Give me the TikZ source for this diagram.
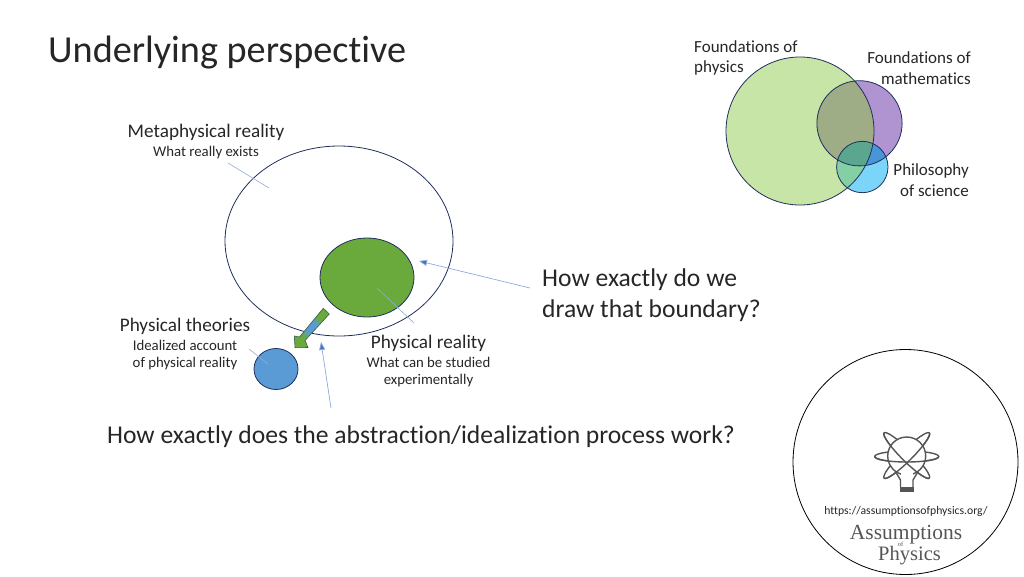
\documentclass[tikz,border=0pt]{standalone}
\usepackage{fontspec}
\setmainfont[RawFeature={-liga,-clig,-dlig}]{Carlito}
\newfontfamily\logofont{Liberation Serif}
\usetikzlibrary{arrows.meta,shapes.geometric}
\definecolor{edge}{HTML}{1F2F5C}
\definecolor{thin}{HTML}{8FAADC}
\definecolor{arrowblue}{HTML}{4472C4}
\definecolor{gA}{HTML}{C7E5A6}
\definecolor{pA}{HTML}{B094D2}
\definecolor{bA}{HTML}{7BD5F9}
\definecolor{gp}{HTML}{9EAD85}
\definecolor{gb}{HTML}{85CFA5}
\definecolor{pb}{HTML}{4A94D8}
\definecolor{gpb}{HTML}{5AA68F}
\definecolor{physgreen}{HTML}{6AAA3C}
\definecolor{theoryblue}{HTML}{5B9BD5}
\definecolor{arrowedge}{HTML}{2F5E4A}
\definecolor{txt}{HTML}{262626}
\definecolor{logogray}{HTML}{555555}
\pgfdeclarehorizontalshading{arrowshade}{100bp}{color(0bp)=(physgreen); color(34bp)=(physgreen); color(43bp)=(theoryblue); color(57bp)=(theoryblue); color(66bp)=(physgreen); color(100bp)=(physgreen)}
\tikzset{
  lab/.style={inner sep=0pt,text=txt,font=\fontsize{#1}{#1}\selectfont},
  blob/.style={draw=edge,line width=0.8pt,inner sep=0pt},
  leader/.style={draw=thin,line width=0.6pt},
  pointer/.style={draw=thin,line width=0.7pt,-{Triangle[length=8pt,width=6pt,fill=arrowblue]}},
  logoline/.style={draw=logogray,line width=1.4pt}
}
\begin{document}
\begin{tikzpicture}[x=1pt,y=-1pt]
\useasboundingbox (0,0) rectangle (1024,576);
% title
\node[lab=38.2,anchor=west] (title) at (48,52.5) {Underlying perspective};
% Venn
\fill[gA] (800,131) circle (74);
\fill[pA] (859.5,123.3) circle (42.6);
\fill[bA] (862.3,167) circle (25.7);
\begin{scope}\clip (800,131) circle (74);
  \fill[gp] (859.5,123.3) circle (42.6);
  \fill[gb] (862.3,167) circle (25.7);
  \clip (859.5,123.3) circle (42.6);
  \fill[gpb] (862.3,167) circle (25.7);
\end{scope}
\begin{scope}\clip (859.5,123.3) circle (42.6);
  \begin{scope}[even odd rule]
    \clip (700,30) rectangle (950,230) (800,131) circle (74);
    \fill[pb] (862.3,167) circle (25.7);
  \end{scope}
\end{scope}
\node[blob,circle,minimum size=148pt] (fphys) at (800,131) {};
\node[blob,circle,minimum size=85.2pt] (fmath) at (859.5,123.3) {};
\node[blob,circle,minimum size=51.4pt] (phil) at (862.3,167) {};
\node[lab=17,anchor=west] (fphysA) at (694,47) {Foundations of};
\node[lab=17,anchor=west] (fphysB) at (694,68) {physics};
\node[lab=17,anchor=east] (fmathA) at (971,58) {Foundations of};
\node[lab=17,anchor=east] (fmathB) at (971,79) {mathematics};
\node[lab=17,anchor=east] (philA) at (969,171) {Philosophy};
\node[lab=17,anchor=east] (philB) at (969,190.5) {of science};
% main ellipses
\node[draw=edge,line width=0.8pt,ellipse,inner sep=0pt,minimum width=228pt,minimum height=190pt] (meta) at (339,241) {};
\node[blob,fill=physgreen,ellipse,minimum width=94pt,minimum height=79pt] (phys) at (367,277.5) {};
\node[blob,fill=theoryblue,ellipse,minimum width=44pt,minimum height=41pt] (theory) at (276,369) {};
% abstraction arrow
\path[draw=arrowedge,line width=0.6pt,shading=arrowshade,shading angle=49]
  (323.3,308.3) -- (329.3,314) -- (305,340.5) -- (308,347.5) -- (295,347.7) -- (294.3,336) -- (299.5,337) -- cycle;
% labels
\node[lab=19.2] (metaA) at (206,132) {Metaphysical reality};
\node[lab=14.8] (metaB) at (206,153) {What really exists};
\node[lab=19.2] (thA) at (185,326) {Physical theories};
\node[lab=14.8] (thB) at (185,345.5) {Idealized account};
\node[lab=14.8] (thC) at (185,364) {of physical reality};
\node[lab=19.2] (phA) at (428.5,343) {Physical reality};
\node[lab=14.8] (phB) at (428.5,362) {What can be studied};
\node[lab=14.8] (phC) at (428.5,381) {experimentally};
\node[lab=25.6,anchor=west] (qA) at (542,280) {How exactly do we};
\node[lab=25.6,anchor=west] (qB) at (542,310.5) {draw that boundary?};
\node[lab=25.6] (qC) at (421,437) {How exactly does the abstraction/idealization process work?};
% leaders
\coordinate (l1a) at (228,163); \coordinate (l1b) at (269,188);
\coordinate (l2a) at (377,288); \coordinate (l2b) at (414,323);
\coordinate (l3a) at (249,349); \coordinate (l3b) at (268,364);
\coordinate (p1a) at (530,288); \coordinate (p1b) at (419,261);
\coordinate (p2a) at (331,408); \coordinate (p2b) at (321,342);
\draw[leader] (l1a) -- (l1b);
\draw[leader] (l2a) -- (l2b);
\draw[leader] (l3a) -- (l3b);
\draw[pointer] (p1a) -- (p1b);
\draw[pointer] (p2a) -- (p2b);
% logo
\node[draw=black,line width=0.8pt,circle,inner sep=0pt,minimum size=225pt] (logo) at (905.5,462) {};
\draw[logoline] (906.7,456.5) ellipse (32 and 5.5);
\draw[logoline,rotate around={45:(906.7,455.5)}] (906.7,455.5) ellipse (32 and 5.5);
\draw[logoline,rotate around={-45:(906.7,455.5)}] (906.7,455.5) ellipse (32 and 5.5);
\draw[logoline,fill=white] (906.7,456) circle (19);
\draw[logoline] (874.7,456.5) arc[start angle=180,end angle=0,x radius=32,y radius=5.5];
\begin{scope}[shift={(906.7,455.5)},rotate=45]
  \draw[logoline] (32,0) arc[start angle=0,end angle=180,x radius=32,y radius=5.5];
\end{scope}
\begin{scope}[shift={(906.7,455.5)},rotate=-45]
  \draw[logoline] (32,0) arc[start angle=0,end angle=180,x radius=32,y radius=5.5];
\end{scope}
\fill[white] (900.5,472) rectangle (913,482);
\fill[logogray] (900,487) rectangle (913.5,491.5);
\draw[logoline] (900.5,487) -- (900.5,480) -- (896,472.5) (913,487) -- (913,480) -- (917.5,472.5);
\node[lab=11.7] (url) at (906,511.5) {https://assumptionsofphysics.org/};
\node[inner sep=0pt,text=logogray,font=\logofont\fontsize{21.5}{21.5}\selectfont] (apA) at (906,534.5) {Assumptions};
\node[inner sep=0pt,text=logogray,font=\logofont\fontsize{6.5}{6.5}\selectfont] (apB) at (900.5,544.5) {of};
\node[inner sep=0pt,text=logogray,font=\logofont\fontsize{20.5}{20.5}\selectfont] (apC) at (909.5,556) {Physics};
\end{tikzpicture}
\end{document}
